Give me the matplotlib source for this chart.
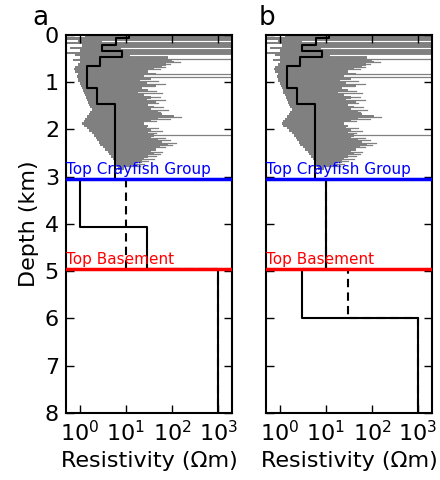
import matplotlib
matplotlib.use("Agg")
import matplotlib.pyplot as plt
import numpy as np

plt.rcParams['font.family'] = ['DejaVu Sans']
plt.rcParams['xtick.direction'] = 'in'
plt.rcParams['ytick.direction'] = 'in'
plt.rcParams['xtick.top'] = True
plt.rcParams['ytick.right'] = True
plt.rcParams['axes.linewidth'] = 1.5
plt.rcParams['mathtext.default'] = 'regular'

# well log (gray), depth in km, resistivity envelope in ohm-m
log_depth = [0.00, 0.05, 0.10, 0.15, 0.20, 0.25, 0.30, 0.35, 0.40, 0.45,
             0.50, 0.55, 0.60, 0.65, 0.70, 0.75, 0.80, 0.85, 0.90, 0.95,
             1.00, 1.05, 1.10, 1.15, 1.20, 1.25, 1.30, 1.35, 1.40, 1.45,
             1.50, 1.55, 1.60, 1.65, 1.70, 1.75, 1.80, 1.85, 1.90, 1.95,
             2.00, 2.05, 2.10, 2.15, 2.20, 2.25, 2.30, 2.35, 2.40, 2.45,
             2.50, 2.55, 2.60, 2.65, 2.70, 2.75, 2.80, 2.85]
log_low = [1.3, 0.5, 0.9, 0.5, 1.1, 0.6, 1.0, 0.5, 0.8, 1.0,
           0.7, 1.0, 0.9, 0.8, 0.75, 0.8, 0.9, 0.85, 0.9, 0.9,
           1.0, 1.05, 1.1, 1.15, 1.2, 1.3, 1.35, 1.4, 1.5, 1.6,
           1.7, 1.8, 1.7, 1.6, 1.4, 1.3, 1.2, 1.1, 1.2, 1.4,
           1.6, 1.8, 2.0, 2.2, 2.4, 2.6, 2.8, 3.2, 3.6, 4.0,
           4.4, 4.8, 5.2, 5.6, 6.0, 6.4, 6.8, 6.8]
log_high = [2000, 2000, 2000, 2000, 2000, 2000, 2000, 2000, 2000, 80,
            100, 110, 75, 60, 40, 30, 45, 25, 35, 20,
            28, 45, 22, 30, 18, 25, 35, 28, 45, 30,
            40, 35, 50, 60, 110, 50, 35, 25, 30, 28,
            35, 30, 40, 35, 50, 60, 80, 55, 45, 35,
            40, 30, 25, 22, 16, 12, 9, 9]

# isolated spikes and streaks in the log: depth, max resistivity
spike_depth = [0.51, 0.83, 0.89, 1.73, 2.12, 2.29,
               0.57, 0.62, 0.68, 0.73, 0.98, 1.03, 1.08, 1.18, 1.23,
               1.32, 1.38, 1.43, 1.52, 1.58, 1.62, 1.78, 1.83, 1.97,
               2.03, 2.08, 2.17, 2.23, 2.33, 2.38, 2.47, 2.52, 2.57,
               2.62, 2.67, 2.72, 2.77]
spike_value = [2000, 2000, 2000, 160, 2000, 120,
               150, 90, 70, 55, 50, 70, 40, 45, 60,
               55, 70, 50, 65, 80, 55, 90, 45, 50,
               60, 45, 70, 90, 100, 70, 60, 55, 45,
               40, 30, 25, 20]
gap_depth = [0.43, 0.12, 0.27]
gap_start = [12, 3, 8]

# layered resistivity models: layer tops (km) and resistivities (ohm-m)
upper_tops = [0.0, 0.07, 0.21, 0.33, 0.47, 0.65, 1.13, 1.47]
upper_res = [11.5, 6.0, 3.0, 8.4, 2.8, 1.46, 2.4, 5.75]

a_solid_tops = [3.05, 4.07, 4.95]
a_solid_res = [1.0, 28.6, 1000]
a_dash_tops = [3.05, 4.95]
a_dash_res = [10, 1000]

b_solid_tops = [3.05, 4.95, 6.0]
b_solid_res = [10, 3.0, 1000]
b_dash_tops = [3.05, 4.95, 6.0]
b_dash_res = [10, 30, 1000]

crayfish_top = 3.05
basement_top = 4.95
max_depth = 8.0


def step_profile(tops, res, bottom):
    # staircase x,y for a layered model
    xs = []
    ys = []
    for i in range(len(tops)):
        z0 = tops[i]
        z1 = tops[i + 1] if i + 1 < len(tops) else bottom
        xs += [res[i], res[i]]
        ys += [z0, z1]
    return xs, ys


def draw_panel(ax, solid_tops, solid_res, dash_tops, dash_res, letter, lx):
    ax.fill_betweenx(log_depth, log_low, log_high, step='post',
                     color='#808080', linewidth=0, zorder=1)
    for z, v in zip(spike_depth, spike_value):
        # streak starts inside the log sample it belongs to
        row = np.searchsorted(log_depth, z, side='right') - 1
        ax.plot([log_low[row] * 1.3, v], [z, z], color='#808080', lw=0.9, zorder=1)
    for z, v in zip(gap_depth, gap_start):
        ax.plot([v, 2000], [z, z], color='white', lw=0.8, zorder=1)

    xs, ys = step_profile(upper_tops + solid_tops, upper_res + solid_res, max_depth)
    ax.plot(xs, ys, color='k', lw=1.5, zorder=3)
    xs, ys = step_profile(dash_tops, dash_res, max_depth)
    ax.plot(xs, ys, color='k', lw=1.5, ls=(0, (4, 2.5)), zorder=3)

    ax.axhline(crayfish_top, color='blue', lw=2.5, zorder=4)
    ax.axhline(basement_top, color='red', lw=2.5, zorder=4)
    ax.text(0.51, crayfish_top - 0.04, 'Top Crayfish Group', color='blue',
            fontsize=11, ha='left', va='bottom', zorder=5)
    ax.text(0.51, basement_top - 0.04, 'Top Basement', color='red',
            fontsize=11, ha='left', va='bottom', zorder=5)

    ax.set_xscale('log')
    ax.set_xlim(0.5, 2000)
    ax.set_ylim(max_depth, 0)
    ax.set_xticks([1, 10, 100, 1000])
    ax.set_xticklabels(['$10^0$', '$10^1$', '$10^2$', '$10^3$'])
    ax.set_yticks(range(0, 9))
    ax.tick_params(which='major', length=6, width=1, labelsize=16, pad=5)
    ax.tick_params(which='minor', length=3, width=0.8)
    ax.set_xlabel('Resistivity (\u03a9m)', fontsize=16)
    ax.text(lx, 1.026, letter, transform=ax.transAxes, fontsize=19,
            ha='left', va='baseline')


fig = plt.figure(figsize=(4.4, 4.8), dpi=100)
ax1 = fig.add_axes([0.15, 0.1396, 0.377, 0.7875])
ax2 = fig.add_axes([0.6045, 0.1396, 0.377, 0.7875])

draw_panel(ax1, a_solid_tops, a_solid_res, a_dash_tops, a_dash_res, 'a', -0.205)
draw_panel(ax2, b_solid_tops, b_solid_res, b_dash_tops, b_dash_res, 'b', -0.045)

ax1.set_ylabel('Depth (km)', fontsize=16)
ax2.set_yticklabels([])

fig.savefig('out.png', dpi=100)
